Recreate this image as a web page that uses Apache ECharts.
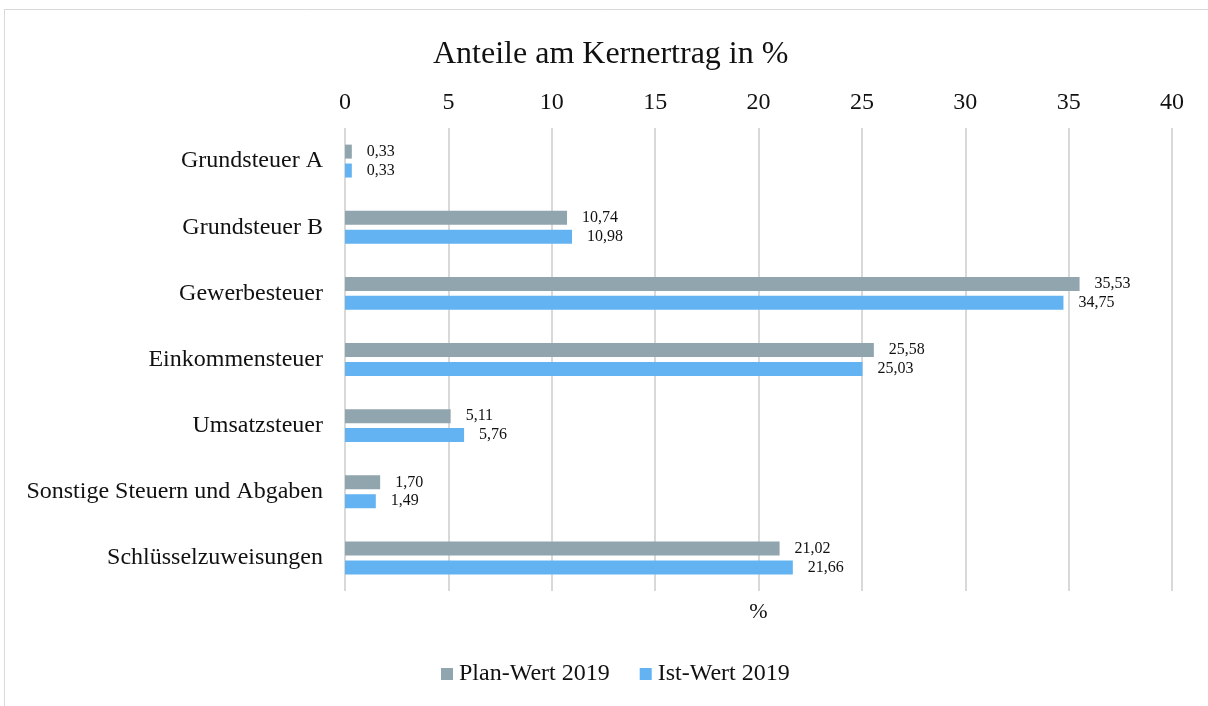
<!DOCTYPE html>
<html>
<head>
<meta charset="utf-8">
<script src="https://cdn.jsdelivr.net/npm/echarts@6/dist/echarts.min.js"></script>
<style>
  html, body { margin: 0; padding: 0; background: #fff; }
  #chart { width: 1208px; height: 706px; }
</style>
</head>
<body>
<div id="chart"></div>
<script>
var categories = ['Grundsteuer A', 'Grundsteuer B', 'Gewerbesteuer', 'Einkommensteuer',
                  'Umsatzsteuer', 'Sonstige Steuern und Abgaben', 'Schlüsselzuweisungen'];
var planWerte = [0.33, 10.74, 35.53, 25.58, 5.11, 1.70, 21.02];
var istWerte = [0.33, 10.98, 34.75, 25.03, 5.76, 1.49, 21.66];
var serif = '"Liberation Serif", "DejaVu Serif", serif';

var myChart = echarts.init(document.getElementById('chart'));

// Zahlen mit Komma wie im Original
function komma(p) {
    return p.value.toFixed(2).replace('.', ',');
}

var option = {
    backgroundColor: '#fff',
    title: {
        text: 'Anteile am Kernertrag in %',
        left: 428,
        top: 34,
        textStyle: { fontFamily: serif, fontSize: 32, fontWeight: 'normal', color: '#111' }
    },
    legend: {
        bottom: 15,
        left: 436,
        itemWidth: 12,
        itemHeight: 12,
        itemGap: 30,
        icon: 'rect',
        textStyle: { fontFamily: serif, fontSize: 24, color: '#111', padding: [0, 0, 0, 1] },
        data: ['Plan-Wert 2019', 'Ist-Wert 2019']
    },
    grid: { left: 345, right: 36, top: 128, bottom: 115 },
    xAxis: [{
        type: 'value',
        position: 'top',
        min: 0,
        max: 40,
        interval: 5,
        axisLine: { show: false },
        axisTick: { show: false },
        axisLabel: { fontFamily: serif, fontSize: 24, color: '#111', margin: 13 },
        splitLine: { lineStyle: { color: '#d9d9d9', width: 2 } }
    }, {
        // nur für den Achsentitel unten
        type: 'value',
        position: 'bottom',
        min: 0,
        max: 40,
        name: '%',
        nameLocation: 'middle',
        nameGap: 10,
        nameTextStyle: { fontFamily: serif, fontSize: 22, color: '#111' },
        axisLine: { show: false },
        axisTick: { show: false },
        axisLabel: { show: false },
        splitLine: { show: false }
    }],
    yAxis: {
        type: 'category',
        inverse: true,
        data: categories,
        axisLine: { show: false },
        axisTick: { show: false },
        axisLabel: { fontFamily: serif, fontSize: 24, color: '#111', margin: 22 }
    },
    series: [
        {
            name: 'Plan-Wert 2019',
            type: 'bar',
            data: planWerte,
            barWidth: 14,
            barGap: '35%',
            itemStyle: { color: '#91a5ae' },
            label: {
                show: true, position: 'right', distance: 15,
                fontFamily: serif, fontSize: 16, color: '#111', formatter: komma
            }
        },
        {
            name: 'Ist-Wert 2019',
            type: 'bar',
            data: istWerte,
            barWidth: 14,
            barGap: '35%',
            itemStyle: { color: '#63b3f2' },
            label: {
                show: true, position: 'right', distance: 15,
                fontFamily: serif, fontSize: 16, color: '#111', formatter: komma
            }
        }
    ],
    graphic: [{
        type: 'rect',
        shape: { x: 4.5, y: 9.5, width: 1220, height: 720 },
        style: { fill: 'none', stroke: '#d9d9d9', lineWidth: 1 },
        silent: true
    }]
};

myChart.setOption(option);
</script>
</body>
</html>
